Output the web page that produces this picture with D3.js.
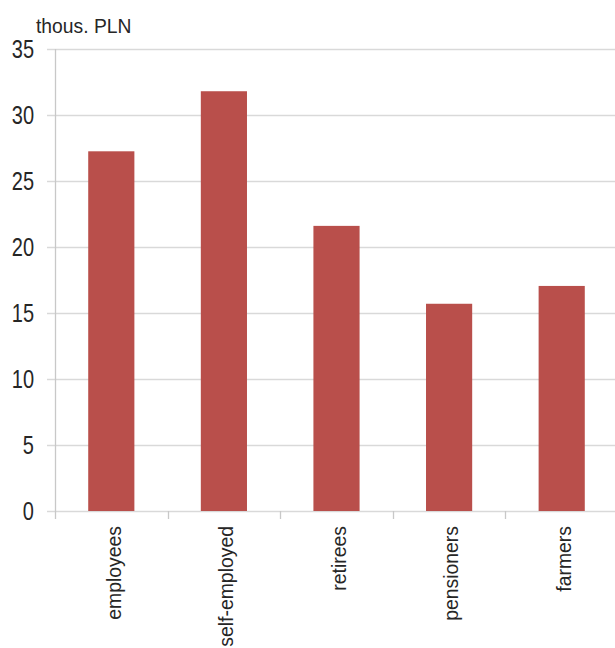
<!DOCTYPE html>
<html><head><meta charset="utf-8">
<script src="https://cdn.jsdelivr.net/npm/d3@7"></script>
<style>
body{margin:0;background:#fff;}
text{font-family:"Liberation Sans","Arial",sans-serif;fill:#262626;}
</style></head>
<body><svg id="c" width="615" height="648"></svg>
<script>
const categories = ["employees","self-employed","retirees","pensioners","farmers"];
const values = [27.25, 31.8, 21.6, 15.7, 17.05];
const yTicks = [0,5,10,15,20,25,30,35];
const unitLabel = "thous. PLN";

(function(){
const svg = d3.select("#c");
const mL = 55, mR = 618, mT = 49, mB = 511;
const x = d3.scaleBand().domain(categories).range([mL, mR]).paddingInner(0.59).paddingOuter(0.295);
const xb = d3.scaleBand().domain(categories).range([mL, mR]);
const y = d3.scaleLinear().domain([0,35]).range([mB, mT]);

svg.append("g").selectAll("line").data(yTicks).join("line")
  .attr("x1", 47).attr("x2", 615)
  .attr("y1", d=>Math.round(y(d))+0.5).attr("y2", d=>Math.round(y(d))+0.5)
  .attr("stroke", "#d9d9d9").attr("stroke-width", 1.3);

svg.append("g").selectAll("rect").data(categories).join("rect")
  .attr("x", d=>x(d)).attr("width", x.bandwidth())
  .attr("y", (d,i)=>y(values[i])).attr("height", (d,i)=>mB - y(values[i]))
  .attr("fill", "#b94f4b");

svg.append("line").attr("x1", mL+0.5).attr("x2", mL+0.5).attr("y1", mT).attr("y2", mB+8)
  .attr("stroke", "#c8c8c8").attr("stroke-width", 1.3);
svg.append("g").selectAll("line").data(categories.slice(1).map(c=>xb(c)))
  .join("line").attr("x1", d=>Math.round(d)+0.5).attr("x2", d=>Math.round(d)+0.5)
  .attr("y1", mB).attr("y2", mB+8).attr("stroke", "#c8c8c8").attr("stroke-width", 1.3);

svg.append("g").selectAll("text").data(yTicks).join("text")
  .attr("transform", d=>`translate(34,${y(d)}) scale(0.8,1)`).attr("dy", "0.36em")
  .attr("text-anchor", "end").attr("font-size", 25).text(d=>d);

svg.append("g").selectAll("text").data(categories).join("text")
  .attr("transform", d=>`translate(${xb(d)+xb.bandwidth()/2+2},526) rotate(-90) scale(0.97,1.05)`)
  .attr("text-anchor", "end").attr("dy", "0.35em").attr("font-size", 20).text(d=>d);

svg.append("text").attr("transform", "translate(36,33) scale(0.92,1)").attr("font-size", 21).text(unitLabel);
})();
</script></body></html>
